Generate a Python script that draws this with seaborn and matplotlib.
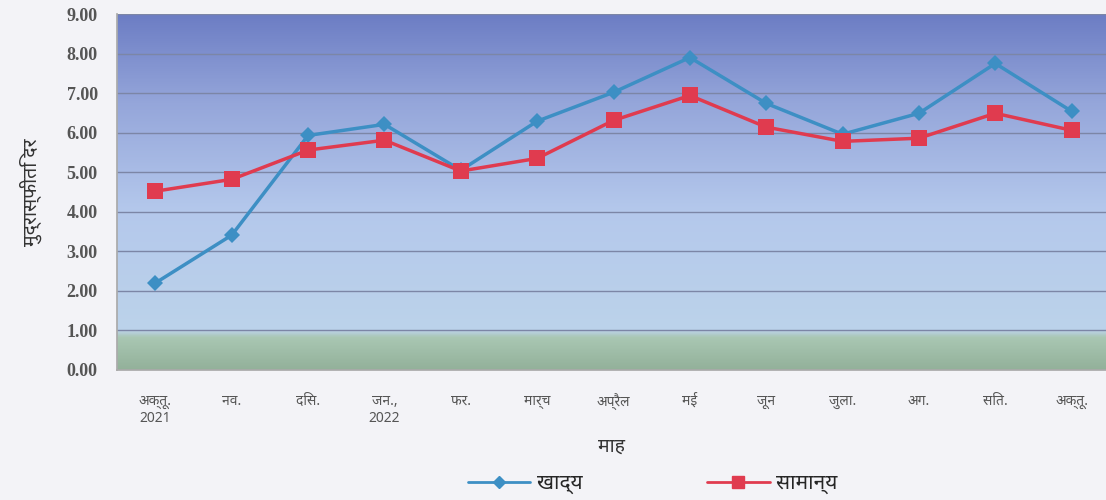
import numpy as np
import pandas as pd
import matplotlib
matplotlib.use("Agg")
import matplotlib.pyplot as plt
from matplotlib.colors import LinearSegmentedColormap
import seaborn as sns

# डेटा
months = ['अक्तू.\n2021', 'नव.', 'दिस.', 'जन.,\n2022', 'फर.', 'मार्च', 'अप्रैल',
          'मई', 'जून', 'जुला.', 'अग.', 'सित.', 'अक्तू.']
food = [2.20, 3.41, 5.93, 6.21, 5.05, 6.29, 7.02, 7.90, 6.74, 5.96, 6.49, 7.75, 6.54]
general = [4.52, 4.82, 5.56, 5.81, 5.03, 5.35, 6.31, 6.94, 6.14, 5.78, 5.86, 6.49, 6.06]
series_names = ['खाद्य', 'सामान्य']
y_ticks = [0, 1, 2, 3, 4, 5, 6, 7, 8, 9]

df = pd.DataFrame({
    'idx': list(range(len(months))) * 2,
    'value': food + general,
    'series': [series_names[0]] * len(months) + [series_names[1]] * len(months),
})

sns.set_theme(style="white")
plt.rcParams['font.family'] = ['Noto Sans', 'DejaVu Sans']

fig = plt.figure(figsize=(11.06, 5.0), dpi=100, facecolor='#f3f3f7')
ax = fig.add_axes([0.106, 0.26, 0.894, 0.712])

# पृष्ठभूमि ढाल
cmap = LinearSegmentedColormap.from_list('bg', [
    (0.0, '#93b19a'), (0.09, '#a9c7b3'), (0.11, '#bcd3ea'),
    (0.45, '#b4c8ec'), (0.75, '#95a6da'), (1.0, '#6c7dc4')])
grad = np.linspace(0, 1, 256).reshape(-1, 1)
ax.imshow(grad, aspect='auto', cmap=cmap, origin='lower',
          extent=[-0.5, 12.45, 0, 9], zorder=0)

for yv in y_ticks[1:]:
    ax.axhline(yv, color='#7c86a6', lw=1.0, zorder=1)

sns.lineplot(data=df, x='idx', y='value', hue='series', style='series',
             palette={series_names[0]: '#3d8fc4', series_names[1]: '#e03b4f'},
             markers={series_names[0]: 'D', series_names[1]: 's'},
             dashes=False, lw=2.5, markersize=9, markeredgewidth=0,
             ax=ax, zorder=3, legend=False)
for ln, ms in zip(ax.lines[-2:], [8, 12]):
    ln.set_markersize(ms)

ax.set_xlim(-0.5, 12.45)
ax.set_ylim(0, 9)
ax.set_yticks(y_ticks)
ax.set_yticklabels([f'{v:.2f}' for v in y_ticks], family='Liberation Serif',
                   fontweight='bold', color='#555555', fontsize=13)
ax.set_xticks(range(len(months)))
ax.set_xticklabels(months, fontsize=10, color='#555555', ha='center',
                   family=['Noto Sans', 'Liberation Serif', 'DejaVu Sans'])
ax.set_xticks(np.arange(len(months)) - 0.5, minor=True)
ax.tick_params(axis='x', which='major', length=0, pad=17)
ax.tick_params(axis='x', which='minor', length=4, color='#888888', direction='out')
ax.tick_params(axis='y', length=0, pad=14)

for side in ['top', 'right']:
    ax.spines[side].set_visible(False)
ax.spines['left'].set_color('#aaaaaa')
ax.spines['bottom'].set_color('#aaaaaa')

ax.set_xlabel('माह', fontsize=14, fontweight='bold', color='#333333', labelpad=8)
ax.set_ylabel('मुद्रास्फीति दर', fontsize=14, fontweight='bold', color='#333333', labelpad=18)

handles = [plt.Line2D([], [], color='#3d8fc4', lw=2, marker='D', markersize=6),
           plt.Line2D([], [], color='#e03b4f', lw=2, marker='s', markersize=8)]
leg = fig.legend(handles, series_names, loc='center', bbox_to_anchor=(0.59, 0.033),
                 ncol=2, frameon=False, columnspacing=6, handlelength=3,
                 handletextpad=0.3, prop={'size': 15, 'weight': 'bold'})

fig.savefig('out.png', dpi=100, facecolor=fig.get_facecolor())
